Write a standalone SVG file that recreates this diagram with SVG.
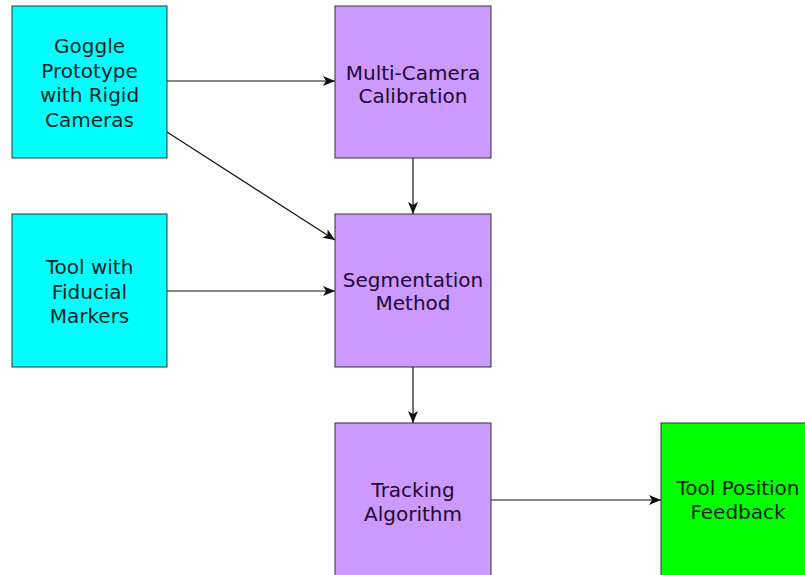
<svg xmlns="http://www.w3.org/2000/svg" width="805" height="575" viewBox="0 0 805 575">
  <style>
    .box { stroke: #333; stroke-width: 1; }
    .input { fill: #00FFFF; }
    .proc { fill: #CC99FF; }
    .out { fill: #00FF00; }
    .label { font-family: "DejaVu Sans", "Verdana", sans-serif; font-size: 20px; text-anchor: middle; }
    .input-t { fill: #082424; }
    .proc-t { fill: #1e0836; }
    .out-t { fill: #082408; }
    .conn { stroke: #111; stroke-width: 1.2; fill: none; marker-end: url(#arrow); }
  </style>
  <defs>
    <marker id="arrow" viewBox="0 0 12 10" refX="12" refY="5" markerWidth="12" markerHeight="10" markerUnits="userSpaceOnUse" orient="auto">
      <path d="M0,0 L12,5 L0,10 L3,5 Z" fill="#111"/>
    </marker>
  </defs>
  <rect width="805" height="575" fill="#fff"/>

  <g id="connectors">
    <line class="conn" x1="167" y1="81" x2="335" y2="81"/>
    <line class="conn" x1="167" y1="132" x2="335" y2="240"/>
    <line class="conn" x1="167" y1="291" x2="335" y2="291"/>
    <line class="conn" x1="413" y1="158" x2="413" y2="214"/>
    <line class="conn" x1="413" y1="367" x2="413" y2="423"/>
    <line class="conn" x1="491" y1="500" x2="661" y2="500"/>
  </g>

  <g id="goggle">
    <rect class="box input" x="12" y="6" width="155" height="152"/>
    <text class="label input-t" x="89.5" y="53">Goggle</text>
    <text class="label input-t" x="89.5" y="77.5">Prototype</text>
    <text class="label input-t" x="89.5" y="102">with Rigid</text>
    <text class="label input-t" x="89.5" y="126.5">Cameras</text>
  </g>

  <g id="tool">
    <rect class="box input" x="12" y="214" width="155" height="153"/>
    <text class="label input-t" x="89.5" y="274">Tool with</text>
    <text class="label input-t" x="89.5" y="298.5">Fiducial</text>
    <text class="label input-t" x="89.5" y="323">Markers</text>
  </g>

  <g id="calibration">
    <rect class="box proc" x="335" y="6" width="156" height="152"/>
    <text class="label proc-t" x="413" y="80">Multi-Camera</text>
    <text class="label proc-t" x="413" y="103">Calibration</text>
  </g>

  <g id="segmentation">
    <rect class="box proc" x="335" y="214" width="156" height="153"/>
    <text class="label proc-t" x="413" y="287">Segmentation</text>
    <text class="label proc-t" x="413" y="310">Method</text>
  </g>

  <g id="tracking">
    <rect class="box proc" x="335" y="423" width="156" height="160"/>
    <text class="label proc-t" x="413" y="497">Tracking</text>
    <text class="label proc-t" x="413" y="521">Algorithm</text>
  </g>

  <g id="feedback">
    <rect class="box out" x="661" y="423" width="160" height="160"/>
    <text class="label out-t" x="738" y="495">Tool Position</text>
    <text class="label out-t" x="738" y="519">Feedback</text>
  </g>
</svg>
